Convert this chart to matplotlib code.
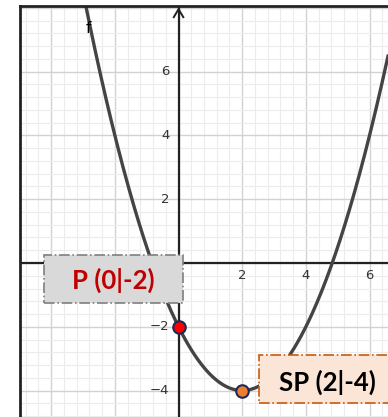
import numpy as np
import matplotlib
matplotlib.use("Agg")
import matplotlib.pyplot as plt
from matplotlib.patches import Rectangle

x_pts = [-1, 0, 2, 4, 5, 6]
y_pts = [0.5, -2, -4, -2, 0.5, 4]

# markierte Punkte
p_point = (0, -2)
sp_point = (2, -4)
p_label = "P (0|-2)"
sp_label = "SP (2|-4)"

# sichtbare Achsenbeschriftungen (-4 und -2 auf der x-Achse liegen unter dem Kasten)
x_ticks = [2, 4, 6]
y_ticks = [-4, -2, 2, 4, 6]

xmin, xmax = -4.98, 6.58
ymin, ymax = -4.83, 8.06

fig = plt.figure(figsize=(3.88, 4.17), dpi=100)
ax = fig.add_axes([20 / 388, 0, 368 / 388, 411 / 417])
ax.set_xlim(xmin, xmax)
ax.set_ylim(ymin, ymax)

# Gitter
ax.set_xticks(np.arange(-4, 7, 2))
ax.set_yticks(np.arange(-4, 9, 2))
ax.set_xticks(np.arange(-4.8, 6.7, 0.4), minor=True)
ax.set_yticks(np.arange(-4.8, 8.1, 0.4), minor=True)
ax.grid(which="major", color="#d2d2d2", lw=1.0, zorder=0)
ax.grid(which="minor", color="#ececec", lw=0.8, zorder=0)
ax.tick_params(which="both", length=0, labelbottom=False, labelleft=False)
ax.set_axisbelow(True)

for s in ["right", "bottom"]:
    ax.spines[s].set_visible(False)
for s in ["left", "top"]:
    ax.spines[s].set_color("#222222")
    ax.spines[s].set_linewidth(2.0)

# Koordinatenachsen
ax.axhline(0, color="#222222", lw=1.6, zorder=1)
ax.plot([0, 0], [ymin, ymax - 0.05], color="#222222", lw=1.6, zorder=1)
ax.plot([-0.15, 0, 0.15], [ymax - 0.35, ymax - 0.1, ymax - 0.35],
        color="#222222", lw=1.4, zorder=1)

for t in x_ticks:
    ax.text(t, -0.4, str(t).replace("-", "\u2212"), ha="center", va="center",
            fontsize=9.5, color="#333333", zorder=1)
for t in y_ticks:
    ax.text(-0.28, t, str(t).replace("-", "\u2212"), ha="right", va="center",
            fontsize=9.5, color="#333333", zorder=1)

coef = np.polyfit(x_pts, y_pts, 2)
xs = np.linspace(xmin, xmax, 400)
ax.plot(xs, np.polyval(coef, xs), color="#444444", lw=2.4, zorder=2)
ax.text(-2.83, 7.35, "f", fontsize=11, ha="center", va="center", zorder=2)

# Punkte
ax.plot(*p_point, "o", ms=9, mfc="#ff0000", mec="#1c2b55", mew=1.5, zorder=4)
ax.plot(*sp_point, "o", ms=9, mfc="#ed7d31", mec="#1c2b55", mew=1.5, zorder=4)

# Beschriftungskästen
ax.add_patch(Rectangle((-4.22, -1.25), 4.35, 1.5, facecolor="#d9d9d9",
                       edgecolor="#7f7f7f", lw=1.2, ls="-.", zorder=3))
ax.text(-2.06, -0.55, p_label, ha="center", va="center", fontsize=18.5,
        fontweight="bold", family="Lato", color="#c00000", zorder=3)

ax.add_patch(Rectangle((2.52, -4.39), 4.6, 1.51, facecolor="#fbe5d6",
                       edgecolor="#c55a11", lw=1.2, ls="-.", zorder=3))
ax.text(4.68, -3.75, sp_label, ha="center", va="center", fontsize=18.5,
        fontweight="bold", family="Lato", color="#000000", zorder=3)

fig.savefig("out.png", dpi=100)
